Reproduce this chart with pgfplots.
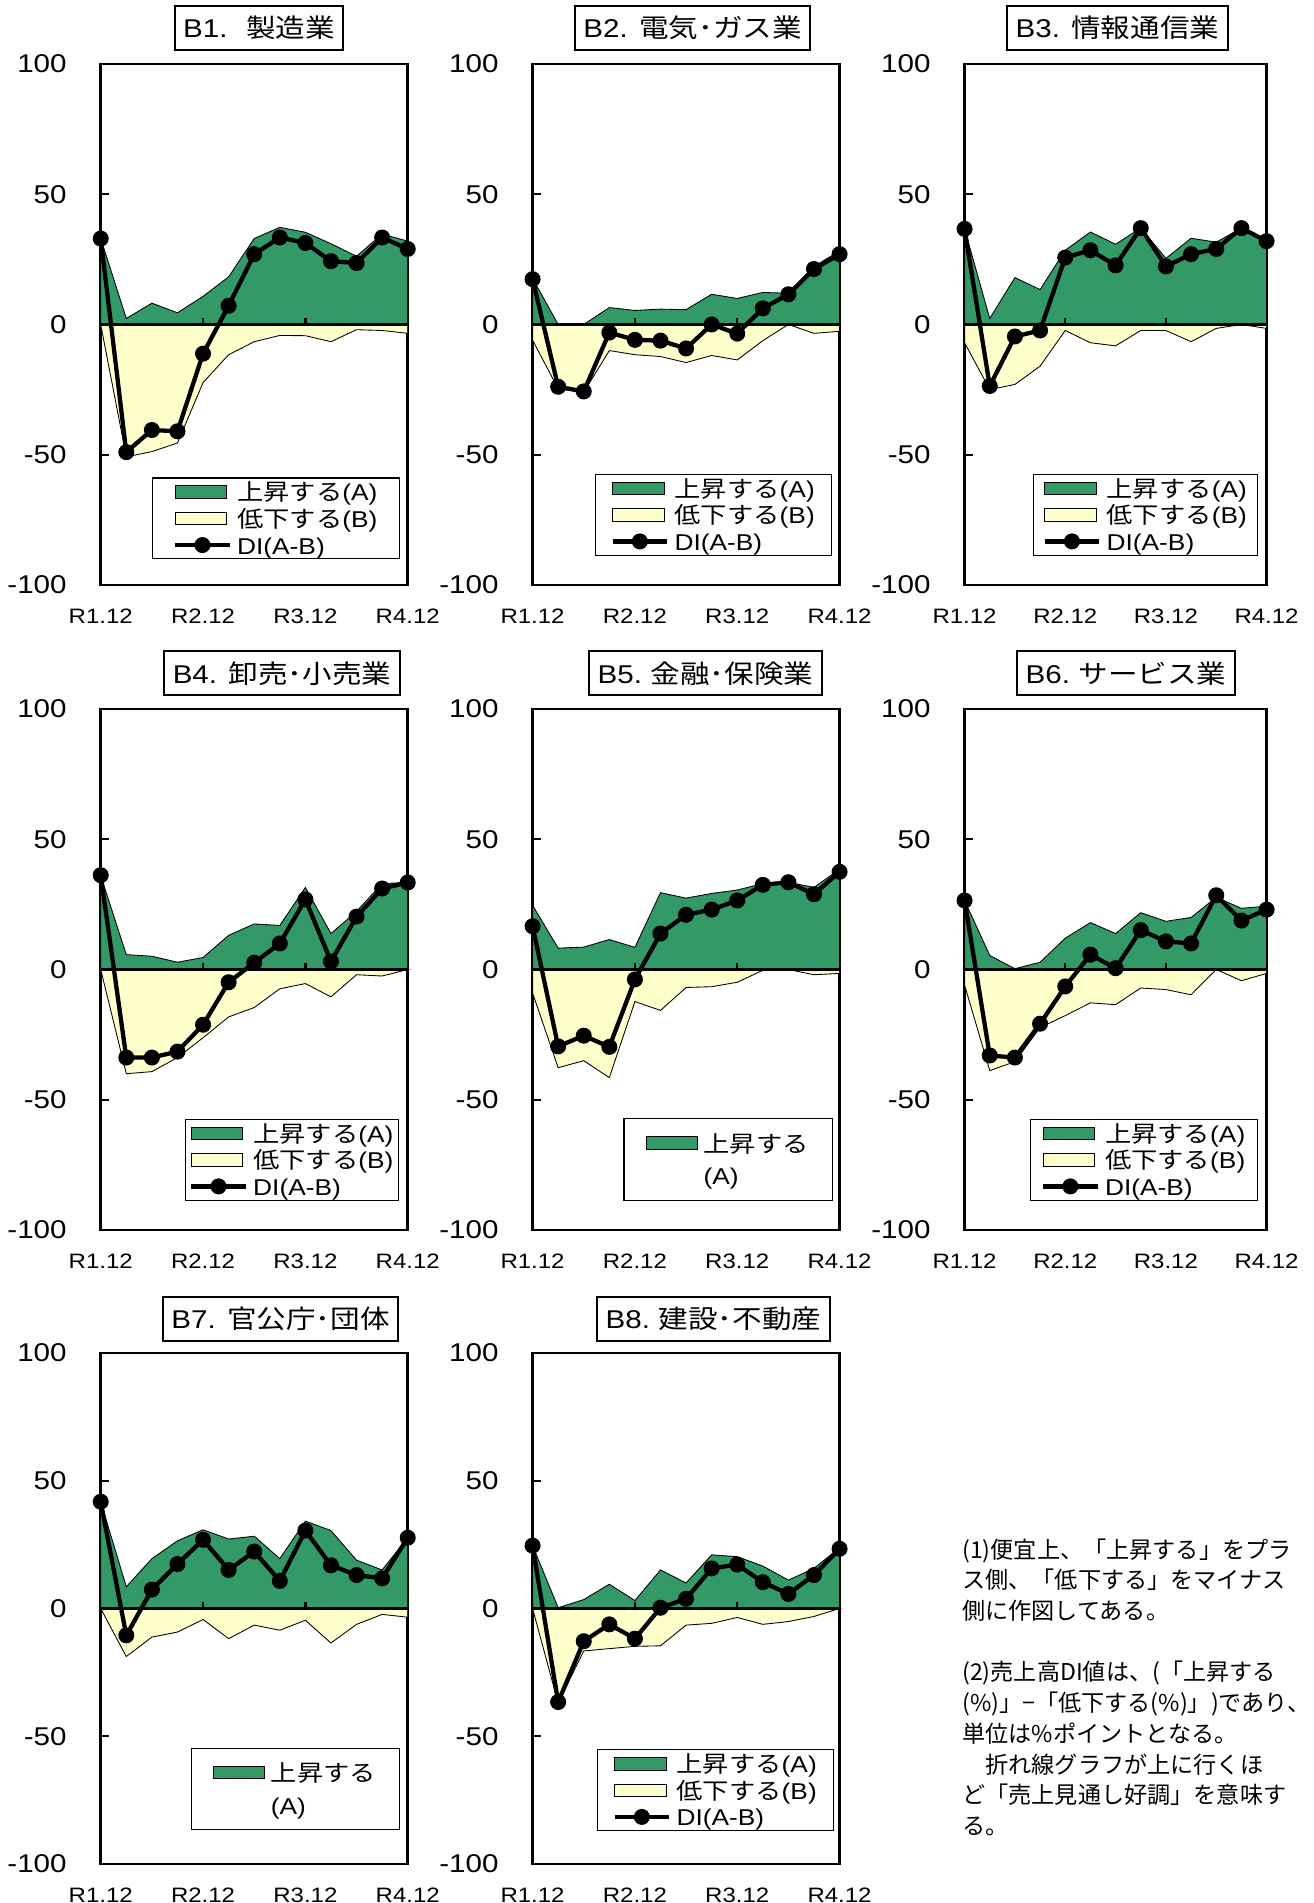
\documentclass[border=0pt]{standalone}
\usepackage{fontspec}
\setmainfont{Liberation Sans}[FakeStretch=1.15]
\newfontfamily\jp{Noto Sans CJK JP}[FakeStretch=1.15]
\newfontfamily\jpn{Noto Sans CJK JP}
\usepackage{pgfplots}
\usepackage{pgfplotstable}
\pgfplotsset{compat=1.18}
\definecolor{upA}{RGB}{51,153,102}
\definecolor{downB}{RGB}{255,255,204}
\newcommand\ytfont{\fontsize{9pt}{10pt}\selectfont}
\newcommand\xtfont{\fontsize{7.3pt}{8pt}\selectfont}
\newcommand\legfont{\fontsize{8pt}{9pt}\selectfont}
\newcommand\ttlfont{\fontsize{9pt}{10pt}\selectfont}
\newcommand\notefont{\fontsize{8.1pt}{10.75pt}\selectfont}

\pgfplotstableread{
x A B D
0 33 0 33
1 2.3 -50.8 -49
2 8.2 -48.8 -40.5
3 4.5 -45.5 -41
4 10.8 -22.3 -11.2
5 18.3 -11.6 7.2
6 33 -6.6 27
7 37.3 -4.2 33.4
8 35.4 -4.3 31.3
9 31 -6.6 24.3
10 26.2 -2 23.6
11 34.7 -2.3 33.4
12 32 -3.4 29
}\tabA
\pgfplotstableread{
x A B D
0 17.7 -6 17.4
1 0 -24.7 -23.9
2 0 -26 -25.7
3 6.5 -10 -3.1
4 5.4 -11.6 -5.9
5 5.9 -12.3 -6.2
6 5.7 -14.6 -9.2
7 11.6 -11.9 0
8 10 -13.6 -3.5
9 12.3 -6.2 6.2
10 12 0 11.6
11 22.3 -3.4 21.3
12 28.2 -2.6 27
}\tabB
\pgfplotstableread{
x A B D
0 36.7 -7 36.7
1 2.3 -25 -23.6
2 18 -23 -4.6
3 13.4 -16 -2.3
4 28.5 -2.3 25.7
5 35.5 -7 28.5
6 30.8 -8.2 22.7
7 37 -2.3 37
8 25.4 -2.3 22.3
9 33.1 -6.6 27
10 31.6 -1.5 29
11 37 0 37
12 32.8 -1.5 32
}\tabC
\pgfplotstableread{
x A B D
0 36 0 36.2
1 5.7 -40 -33.8
2 5.1 -39.2 -33.8
3 2.8 -33.8 -31.5
4 4.6 -26.2 -21.2
5 13.1 -18.2 -4.9
6 17.5 -14.6 2.6
7 16.9 -7.4 10
8 31.5 -5.4 26.9
9 13.8 -10.5 3.1
10 22.3 -2 20.3
11 33 -2.5 31.1
12 33.4 0 33.4
}\tabD
\pgfplotstableread{
x A B D
0 24.6 -9 16.6
1 8.2 -37.7 -29.5
2 8.6 -35 -25.4
3 11.5 -41.5 -29.7
4 8.5 -12.3 -3.8
5 29.5 -15.7 13.8
6 27.4 -6.9 21
7 29.2 -6.6 23
8 30.5 -4.9 26.5
9 33 -0.3 32.5
10 33.5 0 33.5
11 31.5 -2 28.9
12 38.5 -1.5 37.5
}\tabE
\pgfplotstableread{
x A B D
0 26.5 -6 26.5
1 5.4 -38.8 -33
2 0.3 -35.4 -33.8
3 2.8 -22.3 -20.8
4 12 -17.7 -6.5
5 18 -12.8 5.7
6 13.8 -13.5 0.5
7 21.8 -7.1 15.1
8 18.5 -7.7 10.8
9 20 -9.7 10
10 27.7 0 28.5
11 23.5 -4.3 18.8
12 24.3 -1.5 23
}\tabF
\pgfplotstableread{
x A B D
0 41.8 0 41.8
1 8.5 -18.8 -10.5
2 19.5 -11.2 7.4
3 26.5 -9.2 17.4
4 30.8 -4.3 26.9
5 27.2 -11.8 15.1
6 28.3 -6.5 22.3
7 19.5 -8.5 10.8
8 34.2 -4.6 30.5
9 30.5 -13.5 16.9
10 18.9 -6.2 13.1
11 15.1 -2.3 11.8
12 27.7 -3.4 27.7
}\tabG
\pgfplotstableread{
x A B D
0 24.6 0 24.6
1 0.3 -37 -36.6
2 3.5 -16.6 -12.8
3 9.5 -15.7 -6.2
4 3.1 -14.8 -11.8
5 15.1 -14.6 0.3
6 10 -6.5 3.8
7 21 -5.8 15.7
8 20.3 -3.5 17.2
9 16.6 -6.2 10.3
10 11.1 -5.1 5.7
11 15.7 -3.1 13.1
12 23.8 0 23.4
}\tabH

\pgfplotsset{
  arealeg/.style={legend image code/.code={\draw[##1,line width=0.3pt] (0pt,-2.2pt) rectangle (18pt,2.2pt);}},
  dileg/.style={legend image code/.code={\draw[mark repeat=2,mark phase=2,##1] plot coordinates {(0pt,0pt) (9.5pt,0pt) (19pt,0pt)};}},
  panel/.style={
    scale only axis, height=182.35pt,
    xmin=0, xmax=12, ymin=-100, ymax=100,
    axis line style={line width=0.9pt},
    xtick={0,4,8,12}, xticklabels={R1.12,R2.12,R3.12,R4.12},
    xtick style={draw=none},
    ytick={-100,-50,0,50,100}, yticklabels={-100,-50,0,50,100},
    ytick pos=left, tick align=inside, major tick length=2.9pt,
    ytick style={line width=0.8pt, black},
    yticklabel style={font=\ytfont, xshift=-8.4pt},
    xticklabel style={font=\xtfont, yshift=-4.8pt},
    /pgf/number format/assume math mode=true,
    clip=false,
    anchor=north west,
    legend cell align=left,
    legend style={draw=black, line width=0.4pt, font=\legfont, anchor=south east,
      inner ysep=0.2pt, column sep=1.3pt, row sep=0pt,
      nodes={inner sep=0.6pt, text height=7.2pt, text depth=0.9pt}},
  },
  oneleg/.style={legend style={inner ysep=3.85pt, row sep=2.2pt}},
}

\newcommand\panelplots[1]{%
  \addplot[fill=upA, draw=black, line width=0.3pt, arealeg] table[x=x,y=A]{#1} \closedcycle;
  \addlegendentry{{\jp 上昇する}(A)}
  \addplot[fill=downB, draw=black, line width=0.3pt, arealeg] table[x=x,y=B]{#1} \closedcycle;
  \addlegendentry{{\jp 低下する}(B)}
  \addplot[black, line width=0.9pt, forget plot] coordinates {(0,0) (12,0)};
  \addplot[black, line width=0.8pt, ycomb, forget plot] coordinates {(4,2.5) (8,2.5)};
  \addplot[black, line width=1.5pt, mark=*, mark size=2.6pt, mark options={line width=0.4pt, fill=black}, dileg] table[x=x,y=D]{#1};
  \addlegendentry{DI(A-B)}
}
\newcommand\panelplotsA[1]{%
  \addplot[fill=upA, draw=black, line width=0.3pt, arealeg] table[x=x,y=A]{#1} \closedcycle;
  \addlegendentry{{\jp 上昇する}}
  \addlegendimage{empty legend}
  \addlegendentry{(A)}
  \addplot[fill=downB, draw=black, line width=0.3pt, forget plot] table[x=x,y=B]{#1} \closedcycle;
  \addplot[black, line width=0.9pt, forget plot] coordinates {(0,0) (12,0)};
  \addplot[black, line width=0.8pt, ycomb, forget plot] coordinates {(4,2.5) (8,2.5)};
  \addplot[black, line width=1.5pt, mark=*, mark size=2.6pt, mark options={line width=0.4pt, fill=black}, forget plot] table[x=x,y=D]{#1};
}

\begin{document}
\begin{tikzpicture}
\useasboundingbox (0pt,0pt) rectangle (459.9pt,-666.05pt);

% Row 1
\begin{axis}[panel, width=107.45pt, at={(35.25pt,-22.4pt)},
  legend style={at={(0.975,0.049)}, inner xsep=7.15pt}]
\panelplots{\tabA}
\end{axis}
\begin{axis}[panel, width=107.45pt, at={(186.4pt,-22.4pt)},
  legend style={at={(0.975,0.056)}, inner xsep=5.2pt}]
\panelplots{\tabB}
\end{axis}
\begin{axis}[panel, width=105.7pt, at={(337.6pt,-22.4pt)},
  legend style={at={(0.972,0.056)}, inner xsep=3.15pt}]
\panelplots{\tabC}
\end{axis}

% Row 2
\begin{axis}[panel, width=107.45pt, at={(35.25pt,-248.15pt)},
  legend style={at={(0.972,0.056)}, inner xsep=1.2pt}]
\panelplots{\tabD}
\end{axis}
\begin{axis}[panel, oneleg, width=107.45pt, at={(186.4pt,-248.15pt)},
  legend style={at={(0.978,0.056)}, inner xsep=7.65pt}]
\panelplotsA{\tabE}
\end{axis}
\begin{axis}[panel, width=105.7pt, at={(337.6pt,-248.15pt)},
  legend style={at={(0.972,0.056)}, inner xsep=3.7pt}]
\panelplots{\tabF}
\end{axis}

% Row 3
\begin{axis}[panel, oneleg, height=178.85pt, width=107.45pt, at={(35.25pt,-473.55pt)},
  legend style={at={(0.975,0.066)}, inner xsep=7.65pt}]
\panelplotsA{\tabG}
\end{axis}
\begin{axis}[panel, height=178.85pt, width=107.45pt, at={(186.4pt,-473.55pt)},
  legend style={at={(0.982,0.064)}, inner xsep=5.25pt}]
\panelplots{\tabH}
\end{axis}

% Titles
\tikzset{ttl/.style={draw=black, line width=0.7pt, fill=white, inner xsep=3pt, inner ysep=0pt, minimum height=15.4pt, font=\ttlfont}}
\node[ttl] at (90.65pt,-9.8pt) {B1.\hspace{6.5pt}{\jp 製造業}};
\node[ttl] at (242.4pt,-9.8pt) {B2.\hspace{4pt}{\jp 電気･ガス業}};
\node[ttl] at (391.1pt,-9.8pt) {B3.\hspace{4pt}{\jp 情報通信業}};
\node[ttl] at (98.7pt,-235.7pt) {B4.\hspace{4pt}{\jp 卸売･小売業}};
\node[ttl] at (246.9pt,-235.7pt) {B5.\hspace{3pt}{\jp 金融･保険業}};
\node[ttl] at (394.1pt,-235.7pt) {B6.\hspace{3pt}{\jp サービス業}};
\node[ttl] at (98.2pt,-461.65pt) {B7.\hspace{4pt}{\jp 官公庁･団体}};
\node[ttl] at (249.7pt,-461.65pt) {B8.\hspace{3pt}{\jp 建設･不動産}};

% Notes
\tikzset{note/.style={anchor=base west, inner sep=0pt, font=\notefont\jpn}}
\node[note] at (336.6pt,-545.3pt) {(1)便宜上、「上昇する」をプラ};
\node[note] at (336.6pt,-556.05pt) {ス側、「低下する」をマイナス};
\node[note] at (336.6pt,-566.8pt) {側に作図してある。};
\node[note] at (336.6pt,-588.3pt) {(2)売上高DI値は、(「上昇する};
\node[note] at (336.6pt,-599.05pt) {(\%)」−「低下する(\%)」)であり、};
\node[note] at (336.6pt,-609.8pt) {単位は\%ポイントとなる。};
\node[note] at (336.6pt,-620.55pt) {　折れ線グラフが上に行くほ};
\node[note] at (336.6pt,-631.3pt) {ど「売上見通し好調」を意味す};
\node[note] at (336.6pt,-642.05pt) {る。};
\end{tikzpicture}
\end{document}
